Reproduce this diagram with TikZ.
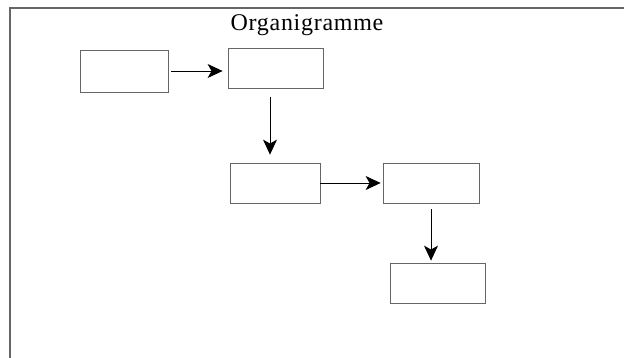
\documentclass[tikz,border=0pt]{standalone}
\usepackage{fontspec}
\setmainfont{Liberation Serif}
\usetikzlibrary{arrows.meta}
\definecolor{linegray}{gray}{0.4}
\tikzset{
	box/.style={draw=linegray,line width=0.8pt,rectangle,inner sep=0pt,minimum width=#1,minimum height=40pt},
	arr/.style={draw=black,line width=0.8pt,-{Stealth[length=15pt,width=14pt,inset=4pt]}}
}
\begin{document}
\begin{tikzpicture}[x={(1pt,0)},y={(0,-1pt)}]
	\useasboundingbox (0,0) rectangle (624,358);
	\draw[linegray,line width=1.5pt](10,358)--(10,8)--(624,8);
	
	\node[anchor=base,inner sep=0pt,font=\fontsize{24}{28}\selectfont\addfontfeature{LetterSpace=3}] (title) at (307,30.5) {Organigramme};
	
	\node[box=88pt,minimum height=42pt] (A) at (124,71) {};
	\node[box=95pt] (B) at (275.5,68) {};
	\node[box=90pt] (C) at (275,183) {};
	\node[box=96pt] (D) at (431,183) {};
	\node[box=95pt] (E) at (437.5,283) {};
	
	\draw[arr,shorten <=3pt,shorten >=5pt](A.east)--(A.east -| B.west);
	\draw[arr,shorten <=9pt,shorten >=8pt]([xshift=-5.5pt]B.south)--([xshift=-5.5pt]B.south |- C.north);
	\draw[arr,shorten >=2pt](C.east)--(C.east -| D.west);
	\draw[arr,shorten <=6pt,shorten >=2pt](D.south)--(D.south |- E.north);
	
\end{tikzpicture}
\end{document}
